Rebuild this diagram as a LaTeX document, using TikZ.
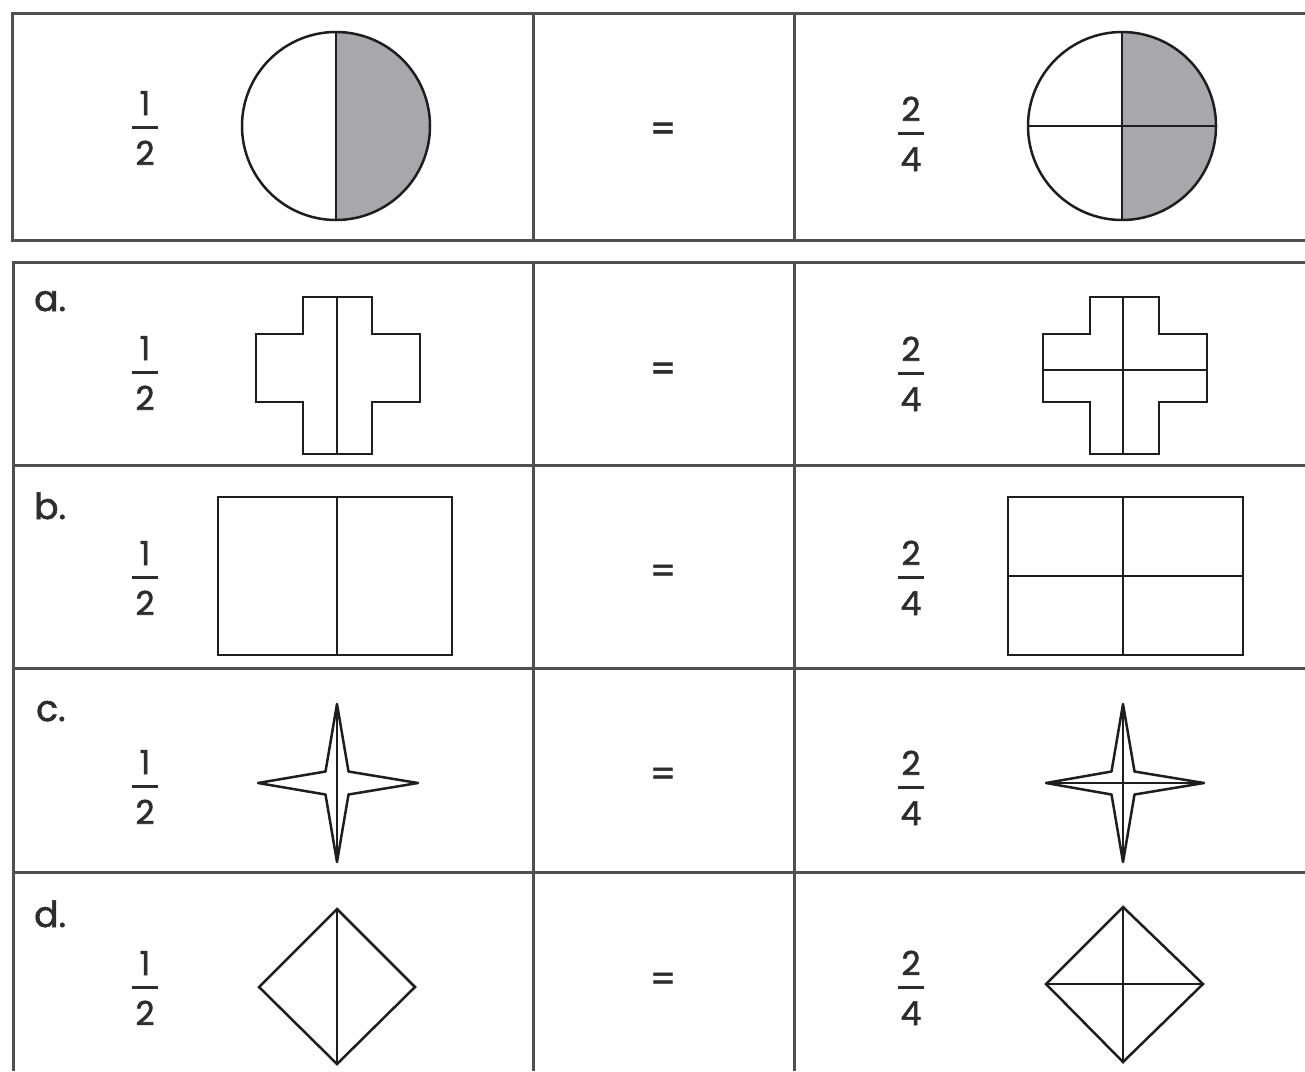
\documentclass[tikz,border=0pt]{standalone}
\usepackage{fontspec}
\setmainfont{Poppins}[FakeBold=1.6]
\definecolor{tline}{RGB}{80,80,80}
\definecolor{shp}{RGB}{30,30,30}
\definecolor{halfgray}{RGB}{168,168,170}
\definecolor{txt}{RGB}{45,45,45}
\tikzset{
  tbl/.style={draw=tline, line width=3pt},
  shape line/.style={draw=shp, line width=2.5pt, line join=miter},
  star line/.style={draw=shp, line width=2.5pt, line join=round},
  numtxt/.style={inner sep=0pt, text=txt, font=\fontsize{33}{40}\selectfont},
  lbl/.style={inner sep=0pt, text=txt, font=\fontsize{36}{42}\selectfont},
  eqtxt/.style={inner sep=0pt, text=txt, font=\fontsize{36}{40}\selectfont},
  fracbar/.style={draw=txt, line width=3pt}
}
\newcommand\myfrac[5]{%
  \node[numtxt, anchor=base] (#1n) at (#2,#3-12) {#4};
  \node[numtxt, anchor=base] (#1d) at (#2,#3+38) {#5};
  \draw[fracbar] (#2-13,#3) -- (#2+13,#3);
}
\begin{document}
\begin{tikzpicture}[x=1pt,y=-1pt]
\useasboundingbox (0,0) rectangle (1305,1071);
\fill[white] (0,0) rectangle (1305,1071);

% ---------- top table ----------
\draw[tbl] (1305,13) -- (12,13) -- (12,240) -- (1305,240);
\draw[tbl] (533,13) -- (533,240);
\draw[tbl] (794,13) -- (794,240);

% ---------- bottom table ----------
\draw[tbl] (1305,262) -- (13,262) -- (13,1071);
\draw[tbl] (13,465) -- (1305,465);
\draw[tbl] (13,668) -- (1305,668);
\draw[tbl] (13,872) -- (1305,872);
\draw[tbl] (533,262) -- (533,1071);
\draw[tbl] (794,262) -- (794,1071);

% ---------- example row ----------
\myfrac{f0l}{145}{127}{1}{2}
\myfrac{f0r}{911}{133}{2}{4}
\node[eqtxt] (e0) at (663,132) {=};
% half circle
\fill[fill=halfgray] (336,32) arc[start angle=-90, end angle=90, radius=94] -- cycle;
\draw[shape line] (336,126) circle[radius=94];
\draw[shape line] (336,32) -- (336,220);
% quarter circle
\fill[fill=halfgray] (1122,32) arc[start angle=-90, end angle=90, radius=94] -- cycle;
\draw[shape line] (1122,126) circle[radius=94];
\draw[shape line] (1122,32) -- (1122,220);
\draw[shape line] (1028,126) -- (1216,126);

% ---------- row a ----------
\node[lbl, anchor=base west] (la) at (34,311) {a.};
\myfrac{fal}{145}{372}{1}{2}
\myfrac{far}{911}{373}{2}{4}
\node[eqtxt] (ea) at (663,372) {=};
\draw[shape line] (303,297) -- (372,297) -- (372,334) -- (420,334) -- (420,402)
  -- (372,402) -- (372,454) -- (303,454) -- (303,402) -- (256,402) -- (256,334)
  -- (303,334) -- cycle;
\draw[shape line] (337,297) -- (337,454);
\draw[shape line] (1090,297) -- (1159,297) -- (1159,334) -- (1207,334) -- (1207,402)
  -- (1159,402) -- (1159,454) -- (1090,454) -- (1090,402) -- (1043,402) -- (1043,334)
  -- (1090,334) -- cycle;
\draw[shape line] (1123,297) -- (1123,454);
\draw[shape line] (1043,370) -- (1207,370);

% ---------- row b ----------
\node[lbl, anchor=base west] (lb) at (34,519) {b.};
\myfrac{fbl}{145}{577}{1}{2}
\myfrac{fbr}{911}{577}{2}{4}
\node[eqtxt] (eb) at (663,574) {=};
\draw[shape line] (218,497) rectangle (452,655);
\draw[shape line] (337,497) -- (337,655);
\draw[shape line] (1008,497) rectangle (1243,655);
\draw[shape line] (1123,497) -- (1123,655);
\draw[shape line] (1008,576) -- (1243,576);

% ---------- row c ----------
\node[lbl, anchor=base west] (lc) at (36,721) {c.};
\myfrac{fcl}{145}{786}{1}{2}
\myfrac{fcr}{911}{787}{2}{4}
\node[eqtxt] (ec) at (663,777) {=};
\draw[star line] (337,704) -- (348.5,771.5) -- (418,783) -- (348.5,794.5)
  -- (337,862) -- (325.5,794.5) -- (258,783) -- (325.5,771.5) -- cycle;
\draw[shape line] (337,704) -- (337,862);
\draw[star line] (1123,704) -- (1134.5,771.5) -- (1204,783) -- (1134.5,794.5)
  -- (1123,862) -- (1111.5,794.5) -- (1046,783) -- (1111.5,771.5) -- cycle;
\draw[shape line] (1123,704) -- (1123,862);
\draw[shape line] (1046,783) -- (1204,783);

% ---------- row d ----------
\node[lbl, anchor=base west] (ld) at (34,927) {d.};
\myfrac{fdl}{145}{987}{1}{2}
\myfrac{fdr}{911}{987}{2}{4}
\node[eqtxt] (ed) at (663,982) {=};
\draw[shape line] (337,909) -- (415,987) -- (337,1064) -- (259,987) -- cycle;
\draw[shape line] (337,909) -- (337,1064);
\draw[shape line] (1123,907) -- (1203,984) -- (1123,1062) -- (1046,984) -- cycle;
\draw[shape line] (1123,907) -- (1123,1062);
\draw[shape line] (1046,984) -- (1203,984);
\end{tikzpicture}
\end{document}
